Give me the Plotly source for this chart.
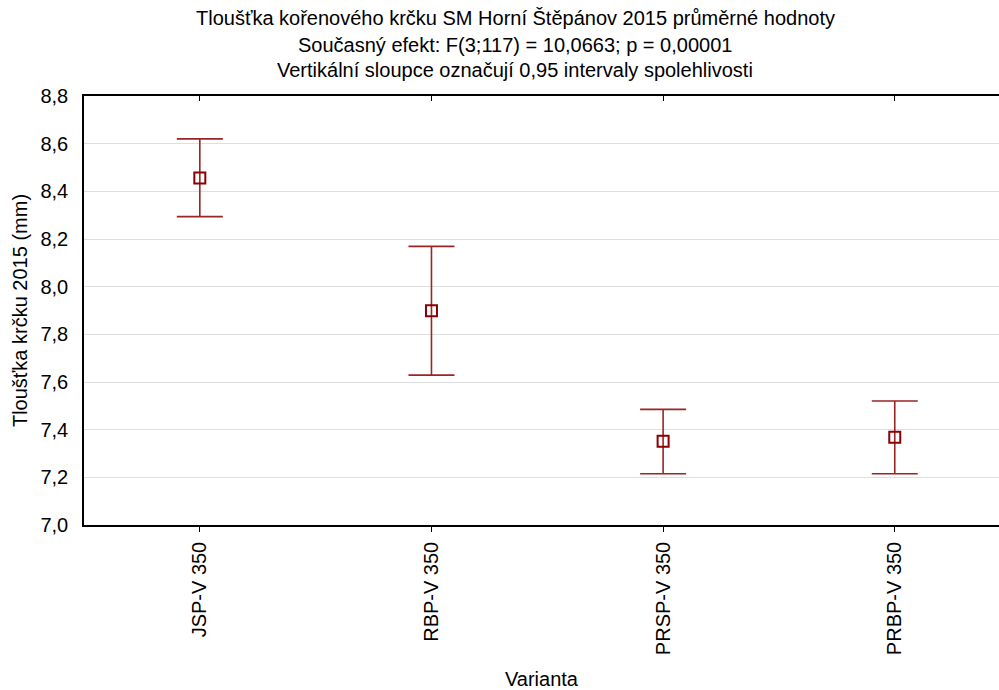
import plotly.graph_objects as go

# Group means with 95 % confidence limits
varianty = ["JSP-V 350", "RBP-V 350", "PRSP-V 350", "PRBP-V 350"]
prumer = [8.456, 7.899, 7.351, 7.368]
dolni_mez = [8.294, 7.629, 7.215, 7.215]
horni_mez = [8.620, 8.169, 7.485, 7.520]

nadpis = [
    "Tloušťka kořenového krčku SM Horní Štěpánov 2015 průměrné hodnoty",
    "Současný efekt: F(3;117) = 10,0663; p = 0,00001",
    "Vertikální sloupce označují 0,95 intervaly spolehlivosti",
]

pozice = list(range(len(varianty)))
nad = [h - m for h, m in zip(horni_mez, prumer)]
pod = [m - d for m, d in zip(prumer, dolni_mez)]

FONT = "Liberation Sans, Arial, sans-serif"
CERVENA = "#8b0000"

W, H = 999, 690
ML, MR, MT, MB = 84, 0, 96, 165
plot_h = H - MT - MB
plot_w = W - ML - MR

fig = go.Figure()
fig.add_trace(go.Scatter(
    x=pozice,
    y=prumer,
    mode="markers",
    marker=dict(symbol="square-open", size=11, color=CERVENA,
                line=dict(color=CERVENA, width=2)),
    error_y=dict(type="data", symmetric=False, array=nad, arrayminus=pod,
                 color="#9a2525", thickness=1.6, width=23),
    showlegend=False,
    hoverinfo="skip",
))
# helper trace so the top axis (inward ticks) is drawn
fig.add_trace(go.Scatter(x=pozice, y=prumer, xaxis="x2", mode="markers",
                         marker=dict(opacity=0), showlegend=False,
                         hoverinfo="skip"))

# three title lines as separate centred annotations
radky_y = [18, 45, 70]
for text, py in zip(nadpis, radky_y):
    fig.add_annotation(
        text=text, showarrow=False,
        xref="paper", x=(515 - ML) / plot_w, xanchor="center",
        yref="paper", y=1 + (MT - py) / plot_h, yanchor="middle",
        font=dict(family=FONT, size=20, color="black"),
    )

fig.update_layout(
    width=W, height=H,
    paper_bgcolor="white", plot_bgcolor="white",
    separators=", ",
    font=dict(family=FONT, size=20, color="black"),
    margin=dict(l=ML, r=MR, t=MT, b=MB),
    xaxis=dict(
        range=[-0.5, 3.45],
        tickmode="array", tickvals=pozice, ticktext=varianty,
        tickangle=-90,
        showgrid=False, zeroline=False,
        showline=True, linecolor="black", linewidth=1.5,
        ticks="outside", ticklen=5, tickcolor="black", tickwidth=1,
        ticklabelstandoff=2,
        tickfont=dict(family=FONT, size=20),
        title=dict(text="Varianta", font=dict(family=FONT, size=20), standoff=22),
    ),
    xaxis2=dict(
        overlaying="x", side="top", matches="x",
        tickmode="array", tickvals=pozice, showticklabels=False,
        showgrid=False, zeroline=False,
        showline=True, linecolor="black", linewidth=1.5,
        ticks="inside", ticklen=5, tickcolor="black", tickwidth=1,
    ),
    yaxis=dict(
        range=[7.0, 8.8], dtick=0.2, tick0=7.0, tickformat=".1f",
        showgrid=True, gridcolor="#dedede", gridwidth=1,
        zeroline=False,
        showline=True, linecolor="black", linewidth=1.5,
        ticks="", ticklabelstandoff=10,
        tickfont=dict(family=FONT, size=20),
        title=dict(text="Tloušťka krčku 2015 (mm)",
                   font=dict(family=FONT, size=20), standoff=7),
    ),
)

fig.write_html("out.html")
